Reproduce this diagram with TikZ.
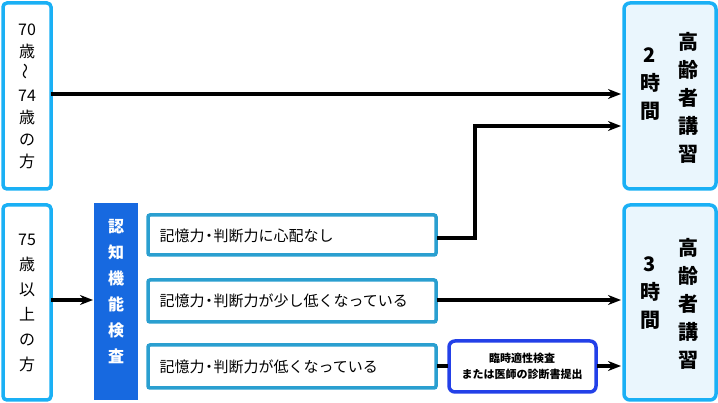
\documentclass[tikz,border=0pt]{standalone}
\usepackage{fontspec}
\setmainfont{Noto Sans CJK JP}
\usetikzlibrary{arrows.meta}
\definecolor{lb}{HTML}{1AB0F5}
\definecolor{tb}{HTML}{2A9FD0}
\definecolor{bar}{HTML}{1769E0}
\definecolor{sb}{HTML}{2340E8}
\definecolor{rf}{HTML}{EAF6FD}
\begin{document}
\begin{tikzpicture}[x=1pt,y=-1pt,
  agebox/.style={draw=lb,line width=3.5pt,rounded corners=4pt,fill=white},
  resbox/.style={draw=lb,line width=3.5pt,rounded corners=6pt,fill=rf},
  midbox/.style={draw=tb,line width=3.5pt,rounded corners=2pt,fill=white},
  arr/.style={line width=3.2pt,-{Stealth[length=13pt,width=10pt]}},
  vt/.style={align=center,font=\fontsize{16}{22}\selectfont}]
\useasboundingbox (0,0) rectangle (718,403);
\draw[agebox] (3,3) rectangle (51,189);
\node[vt] (a) at (27,96) {70\\歳\\\rotatebox{90}{〜}\\74\\歳\\の\\方};
\draw[agebox] (3,205) rectangle (51,400);
\node[vt,font=\fontsize{16}{25}\selectfont] (b) at (27,303) {75\\歳\\以\\上\\の\\方};
\fill[bar] (94,203) rectangle (138,400);
\node[vt,text=white,font=\bfseries\fontsize{16}{26}\selectfont] (c) at (116,292) {認\\知\\機\\能\\検\\査};
\draw[midbox] (148,215) rectangle (436,255);
\draw[midbox] (148,280) rectangle (436,322);
\draw[midbox] (148,345) rectangle (436,388);
\tikzset{mt/.style={anchor=west,font=\fontsize{15}{17}\selectfont}}
\node[mt] (m1) at (156,236) {記憶力\kern-3pt・\kern-3pt判断力に心配なし};
\node[mt] (m2) at (156,301) {記憶力\kern-3pt・\kern-3pt判断力が少し低くなっている};
\node[mt] (m3) at (156,367) {記憶力\kern-3pt・\kern-3pt判断力が低くなっている};
\draw[draw=sb,line width=3.5pt,rounded corners=6pt,fill=white] (449,341) rectangle (596,392);
\node[align=center,font=\bfseries\fontsize{11}{16}\selectfont] (s) at (522,366) {臨時適性検査\\または医師の診断書提出};
\draw[resbox] (624,3) rectangle (716,189);
\draw[resbox] (624,205) rectangle (716,400);
\tikzset{rt/.style={align=center,font=\bfseries\fontsize{20}{28}\selectfont}}
\node[rt] (r1a) at (650,84) {2\\時\\間};
\node[rt] (r1b) at (688,98) {高\\齢\\者\\講\\習};
\node[rt] (r2a) at (650,293) {3\\時\\間};
\node[rt] (r2b) at (688,304) {高\\齢\\者\\講\\習};
\coordinate (p1) at (51,94); \coordinate (q1) at (621,94);
\draw[arr] (p1) -- (q1);
\coordinate (p2) at (437,238); \coordinate (q2) at (621,126);
\draw[arr] (p2) -- (475,238) -- (475,126) -- (q2);
\coordinate (p3) at (437,300); \coordinate (q3) at (621,300);
\draw[arr] (p3) -- (q3);
\coordinate (p4) at (51,300); \coordinate (q4) at (93,300);
\draw[arr] (p4) -- (q4);
\draw[line width=3.2pt] (437,366) -- (448,366);
\coordinate (p5) at (597,366); \coordinate (q5) at (621,366);
\draw[arr] (p5) -- (q5);
\end{tikzpicture}
\end{document}
